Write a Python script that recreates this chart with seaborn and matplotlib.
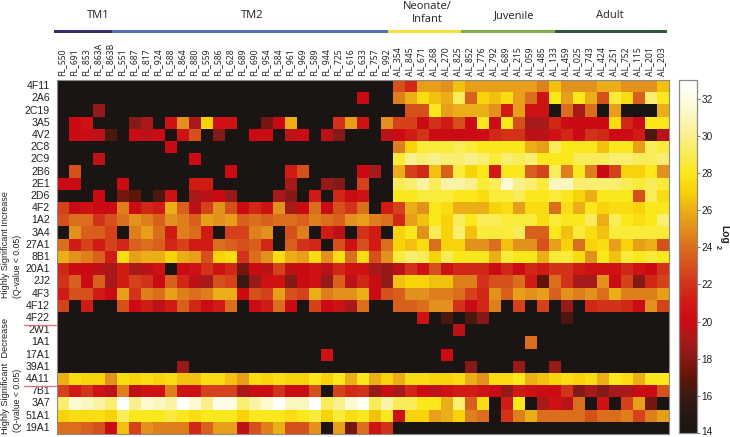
import matplotlib
matplotlib.use("Agg")
import numpy as np
import pandas as pd
import matplotlib.pyplot as plt
import seaborn as sns
from matplotlib.colors import LinearSegmentedColormap
from matplotlib.transforms import ScaledTranslation

# sample ids
fl_samples = ["FL_550", "FL_691", "FL_853", "FL_863A", "FL_863B", "FL_551", "FL_687", "FL_817", "FL_924",
              "FL_588", "FL_864", "FL_880", "FL_559", "FL_586", "FL_628", "FL_689", "FL_690", "FL_954",
              "FL_584", "FL_961", "FL_969", "FL_589", "FL_944", "FL_725", "FL_616", "FL_633", "FL_757", "FL_992"]
al_samples = ["AL_354", "AL_845", "AL_671", "AL_268", "AL_270", "AL_825", "AL_852", "AL_776", "AL_792",
              "AL_689", "AL_215", "AL_059", "AL_485", "AL_133", "AL_459", "AL_025", "AL_743", "AL_424",
              "AL_251", "AL_752", "AL_115", "AL_201", "AL_203"]

genes = ["4F11", "2A6", "2C19", "3A5", "4V2", "2C8", "2C9", "2B6", "2E1", "2D6", "4F2", "1A2", "3A4", "27A1",
         "8B1", "20A1", "2J2", "4F3", "4F12", "4F22", "2W1", "1A1", "17A1", "39A1", "4A11", "7B1", "3A7",
         "51A1", "19A1"]

# log2 values, 14 = black floor
r_4F11 = [14]*28 + [23, 21.5, 25.5, 25.5, 25, 26.5, 25.5, 25.5, 25.5, 25.5, 25.5, 25.5, 24.5, 26.5, 25, 25, 25, 26, 26, 25, 25, 25, 26.5]
r_2A6 = [14]*25 + [20, 14, 14] + [24.5, 26, 27.5, 26.5, 26, 29, 23.5, 27, 26.5, 27.5, 25.5, 24, 20.5, 28, 25.5, 28, 26, 23, 28.5, 27.5, 23.5, 29.5, 28]
r_2C19 = [14, 14, 14, 18.5] + [14]*24 + [14, 23, 23, 28, 25.5, 26, 26, 26, 25, 21, 25.5, 20.5, 20.5, 14, 24, 19, 24, 14, 25.5, 14, 14, 14, 26]
r_3A5 = [14, 20, 20.5, 14, 14, 14, 18, 19, 14, 20.5, 25, 19, 27, 20.5, 20.5, 14, 14, 17.5, 20, 26, 14, 14, 14, 22, 25.5, 20.5, 14, 25] + [22.5, 22.5, 20, 22, 21, 23, 20, 28, 20, 28, 23, 19, 19, 21.5, 20, 20, 20, 20, 27.5, 21.5, 20, 28, 28]
r_4V2 = [14, 20, 20, 19.5, 16.5, 14, 20, 19.5, 20, 14, 20.5, 23, 14, 18, 14, 14, 20, 20, 14, 19.5, 20, 14, 19.5, 18, 14, 14, 14, 19.5] + [20, 21, 22, 20, 20, 20, 20, 20, 21.5, 22, 22, 19.5, 19.5, 20.5, 21.5, 20, 22, 21.5, 20, 20, 21, 16.5, 19.5]
r_2C8 = [14]*9 + [20] + [14]*18 + [24.5, 27, 28.5, 28.5, 28.5, 29, 28.5, 28, 28, 28, 28, 26, 25.5, 29, 28, 28, 28, 26.5, 28, 28, 25.5, 29, 28.5]
r_2C9 = [14, 14, 14, 19.5] + [14]*7 + [20] + [14]*16 + [28.5, 30, 29.5, 30, 29.5, 29.5, 30, 29.5, 28.5, 29.5, 29, 29.5, 28, 28, 28, 29, 29, 29, 29.5, 29.5, 29, 29, 29.5]
r_2B6 = [14, 23] + [14]*12 + [20, 14, 14, 14, 14, 21, 23, 14, 14, 14, 14, 20, 19, 14] + [26, 22.5, 21.5, 26.5, 23.5, 28.5, 27, 28, 21, 28, 28, 23.5, 22.5, 29, 24.5, 28, 24.5, 20, 22.5, 27, 27, 28, 25]
r_2E1 = [20, 20, 14, 14, 14, 20, 14, 14, 14, 14, 14, 21, 21, 14, 14, 14, 14, 14, 14, 19, 14, 14, 18.5, 18, 14, 22.5, 14, 14] + [29, 29.5, 30.5, 29, 30.5, 30.5, 30, 28.5, 29, 31.5, 30, 29.5, 28.5, 31, 31, 29.5, 29.5, 29.5, 29.5, 29, 28.5, 29, 28.5]
r_2D6 = [14, 14, 14, 20, 14, 17.5, 17, 14, 16.5, 20.5, 14, 19, 19.5, 20, 18.5, 14, 14, 14, 19, 18, 14, 21, 14, 21.5, 20, 20.5, 14, 14] + [28, 28, 28.5, 28.5, 28.5, 28, 28, 27.5, 28.5, 28.5, 29, 28, 28, 28.5, 28, 27, 26, 28, 28, 28, 23, 29, 27.5]
r_4F2 = [22.5, 20, 20.5, 20, 20, 24.5, 20, 21.5, 21, 26, 23.5, 19.5, 22.5, 25, 23, 20, 21.5, 20.5, 25, 19, 20, 24, 20, 23, 22, 24, 14, 21] + [22.5, 26, 25, 28, 27.5, 26, 26, 26, 27, 27.5, 25.5, 27.5, 27.5, 24, 27.5, 26, 28, 27, 27.5, 27.5, 27, 28, 28]
r_1A2 = [23, 24, 24, 22, 23, 24, 25, 24.5, 23.5, 25, 24.5, 23.5, 25.5, 25, 25.5, 23.5, 24, 23.5, 24, 24, 23.5, 24.5, 24, 23.5, 25, 25.5, 24.5, 24] + [21.5, 25.5, 26.5, 28, 27, 29, 28, 29, 29, 28.5, 28.5, 28.5, 27.5, 28.5, 28, 28, 29, 26, 29, 28, 27.5, 28, 29.5]
r_3A4 = [14, 25, 23.5, 23.5, 22.5, 14, 24.5, 25.5, 24, 21, 24.5, 24, 21, 14, 22.5, 22.5, 24.5, 25, 14, 23, 24.5, 14, 21, 19.5, 14, 22, 21, 14] + [27, 28, 25, 29, 27, 29.5, 26.5, 28.5, 28.5, 28.5, 29, 23.5, 23.5, 28, 26.5, 28.5, 27.5, 26.5, 28.5, 28.5, 28.5, 28.5, 28.5]
r_27A1 = [24, 21, 22.5, 21, 22.5, 21.5, 23.5, 24, 23.5, 21.5, 22.5, 21, 21, 24, 23.5, 23, 23.5, 21.5, 14, 23.5, 22, 21.5, 14, 23, 20.5, 23, 21, 24] + [27, 26.5, 27.5, 24, 27, 27, 25, 25, 24, 26.5, 25, 25, 23, 25.5, 27, 24, 27, 27.5, 25.5, 27, 25.5, 26, 23]
r_8B1 = [26, 25, 24.5, 23.5, 21, 27.5, 25.5, 26, 26, 27, 26, 25.5, 23, 27, 27.5, 22, 24, 25, 27.5, 26, 25.5, 27.5, 25, 27.5, 24, 27.5, 23, 25] + [28.5, 29.5, 29, 27, 29, 28, 28, 28, 26, 28.5, 28, 28, 26, 28.5, 28.5, 27.5, 25, 28, 26.5, 28.5, 28, 28.5, 28]
r_20A1 = [21.5, 20, 20, 19.5, 19, 21, 19, 19.5, 20.5, 14, 20, 20.5, 22, 20.5, 21.5, 17.5, 20, 19.5, 22.5, 19.5, 20, 20.5, 19.5, 21.5, 20.5, 20.5, 19, 18.5] + [19.5, 22, 20.5, 23, 20.5, 21.5, 21.5, 21.5, 20, 21.5, 20, 21.5, 21, 22, 22, 21, 20.5, 20.5, 20.5, 21.5, 20.5, 20, 22]
r_2J2 = [22, 23.5, 20, 23.5, 19, 21, 22.5, 22, 20, 23.5, 21.5, 19.5, 19, 23, 22.5, 16, 18.5, 20.5, 20.5, 18, 20, 20.5, 18.5, 23.5, 19.5, 21.5, 20, 18.5] + [26.5, 27, 27, 26.5, 26.5, 24.5, 24.5, 22, 23, 23, 24, 21, 17, 24, 22, 19, 19, 25, 20, 22.5, 18, 21.5, 22.5]
r_4F3 = [21, 23, 23, 21, 20, 25.5, 22, 24.5, 24, 25.5, 24.5, 24, 24.5, 26, 26, 20, 23, 22.5, 25.5, 23, 22.5, 26, 24.5, 25, 25, 26, 20, 23] + [23.5, 25, 25, 24.5, 24.5, 24, 22.5, 21.5, 25, 23.5, 25.5, 25, 25.5, 23.5, 25, 24.5, 25, 24, 26, 24.5, 24.5, 24.5, 25.5]
r_4F12 = [22.5, 14, 21, 14, 14, 23, 20, 21, 19.5, 21, 23.5, 21.5, 20, 21, 24, 14, 20, 21, 24, 20, 14, 22.5, 20, 20.5, 19, 24, 14, 14] + [23.5, 23.5, 24, 25, 25, 22, 20, 21.5, 24.5, 14, 22.5, 14, 22.5, 14, 18.5, 14, 21.5, 22, 22, 21.5, 20, 25, 22.5]
r_4F22 = [14]*30 + [20.5, 14, 16.5, 14, 16.5, 18] + [14]*6 + [16.5] + [14]*8
r_2W1 = [14]*33 + [19.5] + [14]*17
r_1A1 = [14]*39 + [24] + [14]*11
r_17A1 = [14]*22 + [20.5] + [14]*9 + [20] + [14]*18
r_39A1 = [14]*10 + [18.5] + [14]*23 + [18] + [14]*3 + [18.5, 14, 14, 18.5] + [14]*9
r_4A11 = [26, 27.5, 27, 27, 25, 27.5, 27, 27.5, 27, 27.5, 26.5, 26.5, 27.5, 27.5, 26.5, 25.5, 27.5, 27, 27.5, 27, 27, 28, 27, 28, 26, 28, 26, 27] + [26, 27.5, 27.5, 27, 27, 27.5, 26, 25, 27.5, 27.5, 28, 26, 26.5, 27, 27.5, 27, 27.5, 26, 28, 27.5, 26, 28, 28]
r_7B1 = [22.5, 21, 22, 20.5, 19.5, 24.5, 19.5, 20.5, 20.5, 24.5, 20.5, 20.5, 22.5, 22.5, 22.5, 19, 20, 20, 22, 20, 20, 23, 14, 22.5, 21.5, 22, 18.5, 20] + [19, 21.5, 20, 19.5, 20.5, 21, 21, 20.5, 20, 18.5, 21, 20.5, 20, 20, 22, 18, 19, 18, 19, 19, 20, 20, 23]
r_3A7 = [29.5, 31.5, 31, 30.5, 29.5, 33, 30, 31.5, 31, 30.5, 32.8, 31.5, 30, 32, 32, 29.5, 30.5, 31.5, 33, 31, 31, 33, 29, 30, 31.5, 32.5, 29, 30.5] + [29, 29, 28, 28, 26, 29.5, 23.5, 27.5, 14, 21, 28, 14, 19, 20.5, 19.5, 24, 14, 20.5, 14, 22.5, 25.5, 17.5, 14]
r_51A1 = [27, 27.5, 27.5, 27.5, 27, 29, 28, 28, 28, 28.5, 28, 27.5, 28, 28, 28, 27, 28, 28, 28, 27.5, 28, 28.5, 27, 28.5, 27.5, 28, 26.5, 28] + [20.5, 27, 27, 25.5, 26, 27, 24.5, 24, 14, 22, 24.5, 26, 24, 24, 24, 24, 23, 24, 24, 24.5, 22.5, 24.5, 25.5]
r_19A1 = [24, 24, 23.5, 23, 20, 26.5, 22.5, 25, 24.5, 24.5, 24.5, 21.5, 23.5, 25.5, 25.5, 19.5, 23, 24.5, 26, 23, 23, 25, 14, 25.5, 17.5, 24, 20.5, 22] + [14]*23

rows = [r_4F11, r_2A6, r_2C19, r_3A5, r_4V2, r_2C8, r_2C9, r_2B6, r_2E1, r_2D6, r_4F2, r_1A2, r_3A4, r_27A1,
        r_8B1, r_20A1, r_2J2, r_4F3, r_4F12, r_4F22, r_2W1, r_1A1, r_17A1, r_39A1, r_4A11, r_7B1, r_3A7,
        r_51A1, r_19A1]

group_names = ["TM1", "TM2", "Neonate/\nInfant", "Juvenile", "Adult"]
group_colors = ["#3b2a6e", "#5470b4", "#f5e03c", "#84ad4c", "#2f5a3c"]
group_edges = [54, 112, 388, 461, 555, 667]
group_text_x = [98, 252, 427, 514, 610]

W, H = 730, 437
df = pd.DataFrame(rows, index=genes, columns=fl_samples + al_samples)

sns.set_theme(style="white")
plt.rcParams["font.family"] = ["Liberation Sans", "DejaVu Sans"]

stops = [(14, "#1a1512"), (15, "#261713"), (16, "#3a1a12"), (17, "#621408"), (18, "#861a16"), (19, "#a81a1a"),
         (20, "#cc0a14"), (21, "#d01a14"), (22, "#d2321a"), (23, "#d6501c"), (24, "#da6e1c"), (25, "#e2901c"),
         (26, "#ecae16"), (27, "#f8d208"), (28, "#fbe81c"), (29, "#f9ec55"), (30, "#f9f08c"), (31, "#fbf5bb"),
         (32, "#fefce4"), (33, "#ffffff")]
cmap = LinearSegmentedColormap.from_list("log2", [((v - 14) / 19, c) for v, c in stops], N=256)


def px_axes(x0, y0, x1, y1):
    # pixel box with y from the top -> figure axes
    return fig.add_axes([x0 / W, 1 - y1 / H, (x1 - x0) / W, (y1 - y0) / H])


def px_text(x, y, s, **kw):
    fig.text(x / W, 1 - y / H, s, ha="center", va="center", **kw)


fig = plt.figure(figsize=(W / 100, H / 100), dpi=100)
ax = px_axes(57, 80, 669, 434)
cax = px_axes(679, 80, 697, 433)

sns.heatmap(df, ax=ax, cbar_ax=cax, cmap=cmap, vmin=14, vmax=33, xticklabels=True, yticklabels=True,
            cbar_kws={"ticks": list(range(14, 33, 2))})

# column labels on top, no marks
ax.xaxis.tick_top()
ax.tick_params(axis="x", length=0, pad=3, labelsize=6.2, rotation=90, colors="#222222")
shift_left = ScaledTranslation(-1.5 / 100, 0, fig.dpi_scale_trans)
for lab in ax.get_xticklabels():
    lab.set_family("Noto Sans")
    lab.set_transform(lab.get_transform() + shift_left)

# short grey marks on both sides, pointing into the cells
ax.tick_params(axis="y", left=True, right=True, direction="in", length=4.5, width=0.7, color="#6a6a6a",
               labelsize=7.6, labelcolor="#222222", pad=5, rotation=0)

for sp in ax.spines.values():
    sp.set_visible(True)
    sp.set_color("#8a8a8a")
    sp.set_linewidth(0.8)

cax.tick_params(axis="y", right=True, direction="inout", length=4, width=0.7, color="#777777", labelsize=7.2,
                labelcolor="#222222", pad=1)
for sp in cax.spines.values():
    sp.set_visible(True)
    sp.set_color("#8a8a8a")
    sp.set_linewidth(0.8)
# keep the bottom label inside the canvas
low = cax.get_yticklabels()[0]
low.set_transform(low.get_transform() + ScaledTranslation(0, 2 / 100, fig.dpi_scale_trans))

# group bars and headings
for i, name in enumerate(group_names):
    bar = px_axes(group_edges[i], 30, group_edges[i + 1], 33)
    bar.axis("off")
    bar.axvspan(0, 1, color=group_colors[i], lw=0)
    bar.set_xlim(0, 1)
    y = 13 if "\n" in name else 16
    px_text(group_text_x[i], y, name, fontsize=8, color="#222222", family="Open Sans", linespacing=1.15)

# side captions
side = {"color": "#222222", "rotation": 90}
px_text(6, 245, "Highly Significant Increase", fontsize=6.5, **side)
px_text(17, 266, "(Q-value < 0.05)", fontsize=6.3, **side)
px_text(6, 376, "Highly Significant  Decrease", fontsize=6.7, **side)
px_text(17, 400, "(Q-value < 0.05)", fontsize=6.3, **side)

# red separators beside the row labels
for y in [325, 386]:
    fig.add_artist(plt.Line2D([24 / W, 56 / W], [1 - y / H, 1 - y / H], color="#d9737a", lw=0.9))

px_text(724, 234, "Log", fontsize=7.4, fontweight="bold", rotation=-90, color="#222222")
px_text(717, 247, "2", fontsize=5.2, fontweight="bold", rotation=-90, color="#222222")

fig.savefig("out.png", dpi=100)
